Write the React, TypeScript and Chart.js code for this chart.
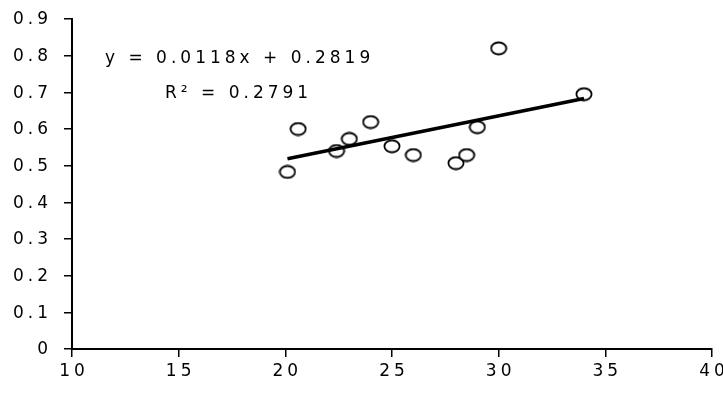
import React, { useEffect, useRef } from "react";
import { Chart, registerables } from "chart.js";

Chart.register(...registerables);

const xValues = [20.1, 20.6, 22.4, 23.0, 24.0, 25.0, 26.0, 28.0, 28.5, 29.0, 30.0, 34.0];
const yValues = [0.483, 0.6, 0.54, 0.573, 0.619, 0.553, 0.529, 0.507, 0.529, 0.605, 0.82, 0.695];
const slope = 0.0118;
const intercept = 0.2819;
const rSquared = 0.2791;
const xTickValues = [10, 15, 20, 25, 30, 35, 40];
const yTickValues = [0, 0.1, 0.2, 0.3, 0.4, 0.5, 0.6, 0.7, 0.8, 0.9];
const equationText = "y = 0.0118x + 0.2819";
const rSquaredText = "R² = " + rSquared.toFixed(4);

const FONT_FAMILY = "'DejaVu Sans', sans-serif";
const FONT_SIZE = 17;
const LETTER_SPACING = "4px";

function makeMarker(): HTMLCanvasElement {
  const c = document.createElement("canvas");
  c.width = 18;
  c.height = 15;
  const g = c.getContext("2d")!;
  g.beginPath();
  g.ellipse(9, 7.5, 7.6, 6, 0, 0, Math.PI * 2);
  g.fillStyle = "#ffffff";
  g.fill();
  g.lineWidth = 1.8;
  g.strokeStyle = "#000000";
  g.stroke();
  return c;
}

const spacingPlugin = {
  id: "spacing",
  beforeLayout(chart: any) {
    (chart.ctx as any).letterSpacing = LETTER_SPACING;
  },
  beforeDraw(chart: any) {
    (chart.ctx as any).letterSpacing = LETTER_SPACING;
  },
};

const equationPlugin = {
  id: "equation",
  afterDraw(chart: any) {
    const ctx = chart.ctx;
    const area = chart.chartArea;
    ctx.save();
    (ctx as any).letterSpacing = LETTER_SPACING;
    ctx.fillStyle = "#000";
    ctx.font = `${FONT_SIZE}px ${FONT_FAMILY}`;
    ctx.textAlign = "left";
    ctx.textBaseline = "alphabetic";
    ctx.fillText(equationText, area.left + 33, area.top + 44);
    ctx.fillText(rSquaredText, area.left + 93, area.top + 79);
    ctx.restore();
  },
};

export default function App() {
  const ref = useRef<HTMLCanvasElement>(null);

  useEffect(() => {
    document.body.style.margin = "0";
    const marker = makeMarker();
    const xMin = Math.min(...xValues);
    const xMax = Math.max(...xValues);
    const chart = new Chart(ref.current!, {
      type: "scatter",
      data: {
        datasets: [
          {
            type: "line",
            data: [
              { x: xMin, y: slope * xMin + intercept },
              { x: xMax, y: slope * xMax + intercept },
            ],
            borderColor: "#000",
            borderWidth: 3.5,
            pointRadius: 0,
            fill: false,
            order: 0,
          } as any,
          {
            data: xValues.map((x, i) => ({ x, y: yValues[i] })),
            pointStyle: marker as any,
            pointRadius: 8,
            order: 1,
          },
        ],
      },
      options: {
        animation: false,
        responsive: false,
        maintainAspectRatio: false,
        layout: { padding: { top: 19, right: 11, bottom: 0, left: 0 } },
        plugins: { legend: { display: false }, tooltip: { enabled: false } },
        scales: {
          x: {
            type: "linear",
            min: 10,
            max: 40,
            afterBuildTicks: (s: any) => {
              s.ticks = xTickValues.map((v) => ({ value: v }));
            },
            afterFit: (s: any) => {
              s.height = 45;
              s.paddingLeft = 0;
              s.paddingRight = 0;
            },
            grid: { display: true, drawOnChartArea: false, tickLength: 8, color: "#000", lineWidth: 1.5 },
            border: { display: true, color: "#000", width: 2 },
            ticks: {
              color: "#000",
              font: { family: FONT_FAMILY, size: FONT_SIZE },
              padding: 4,
              labelOffset: 2,
              maxRotation: 0,
              callback: (v: any) => String(v),
            },
          },
          y: {
            type: "linear",
            min: 0,
            max: 0.9,
            afterBuildTicks: (s: any) => {
              s.ticks = yTickValues.map((v) => ({ value: v }));
            },
            afterFit: (s: any) => {
              s.width = 72;
              s.paddingTop = 0;
              s.paddingBottom = 0;
            },
            grid: { display: true, drawOnChartArea: false, tickLength: 8, color: "#000", lineWidth: 1.5 },
            border: { display: true, color: "#000", width: 2 },
            ticks: {
              color: "#000",
              font: { family: FONT_FAMILY, size: FONT_SIZE },
              padding: 12,
              labelOffset: 1,
              callback: (v: any) => (v === 0 ? "0" : Number(v).toFixed(1)),
            },
          },
        },
      },
      plugins: [spacingPlugin, equationPlugin],
    });
    return () => chart.destroy();
  }, []);

  return (
    <div style={{ position: "absolute", left: 0, top: 0, width: 723, height: 394, background: "#fff" }}>
      <canvas ref={ref} width={723} height={394} style={{ width: 723, height: 394, display: "block" }} />
    </div>
  );
}
